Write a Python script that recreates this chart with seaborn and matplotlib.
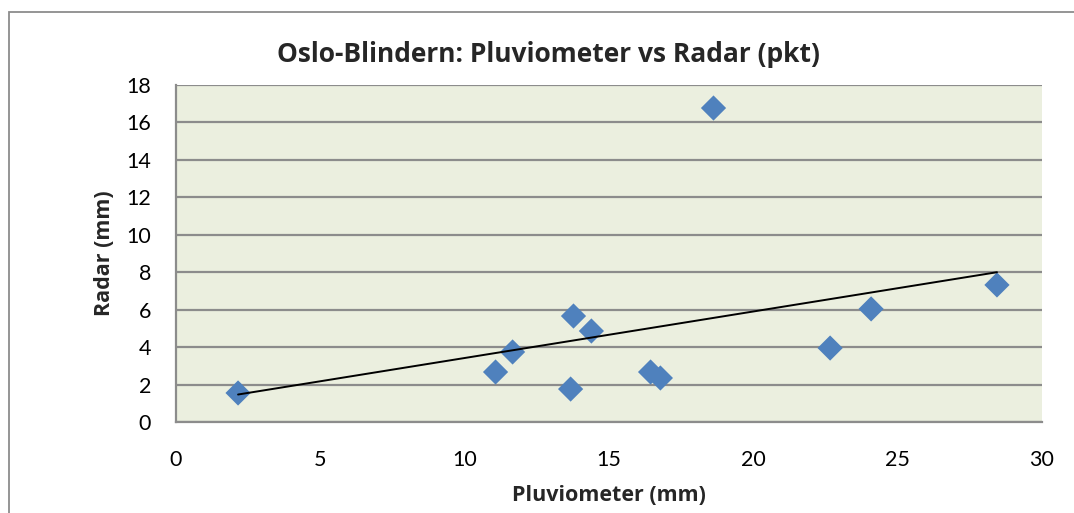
import numpy as np
import pandas as pd
import matplotlib
matplotlib.use("Agg")
import matplotlib.pyplot as plt
from matplotlib.patches import Rectangle
import seaborn as sns

# Daily totals at Oslo-Blindern: rain gauge vs radar estimate at the station pixel
pluviometer_mm = [2.15, 11.07, 11.66, 13.67, 13.77, 14.39, 16.44, 16.78, 18.62, 22.66, 24.08, 28.44]
radar_mm = [1.55, 2.67, 3.74, 1.76, 5.66, 4.86, 2.67, 2.35, 16.77, 3.95, 6.04, 7.32]

title_text = "Oslo-Blindern: Pluviometer vs Radar (pkt)"
x_label = "Pluviometer (mm)"
y_label = "Radar (mm)"
x_ticks = [0, 5, 10, 15, 20, 25, 30]
y_ticks = [0, 2, 4, 6, 8, 10, 12, 14, 16, 18]

df = pd.DataFrame({"pluv": pluviometer_mm, "radar": radar_mm})

sns.set_theme(style="white")
plt.rcParams["font.family"] = ["Lato", "DejaVu Sans"]
bold_family = ["Open Sans", "DejaVu Sans"]

fig = plt.figure(figsize=(10.74, 5.13), dpi=100)
ax = fig.add_axes([176 / 1074, 1 - 422 / 513, (1042 - 176) / 1074, (422 - 85) / 513])

ax.set_facecolor("#EBEFDF")
ax.set_axisbelow(True)
ax.yaxis.grid(True, color="#8C8C8C", linewidth=1.6)
ax.xaxis.grid(False)

sns.scatterplot(data=df, x="pluv", y="radar", marker="D", s=165,
                color="#4F81BD", edgecolor="none", ax=ax, zorder=3)
sns.regplot(data=df, x="pluv", y="radar", scatter=False, ci=None,
            line_kws={"color": "black", "linewidth": 1.4, "zorder": 4}, ax=ax)

ax.set_xlim(0, 30)
ax.set_ylim(0, 18)
ax.set_xticks(x_ticks)
ax.set_yticks(y_ticks)
ax.tick_params(axis="both", labelsize=15.5, colors="black", length=0)
ax.tick_params(axis="x", pad=20)
ax.tick_params(axis="y", pad=18)

for side in ["top", "right"]:
    ax.spines[side].set_visible(False)
for side in ["left", "bottom"]:
    ax.spines[side].set_color("#8C8C8C")
    ax.spines[side].set_linewidth(1.6)

ax.set_xlabel(x_label, fontsize=15.5, fontweight="bold", family=bold_family, labelpad=11)
ax.set_ylabel(y_label, fontsize=15.5, fontweight="bold", family=bold_family, labelpad=8)

fig.text(548 / 1074, 1 - 55 / 513, title_text, ha="center", va="center",
         fontsize=19, fontweight="bold", family=bold_family)

# Chart frame around the whole figure area
fig.patches.append(Rectangle((8.5 / 1074, -0.1), 1.2, 1.1 - 12.5 / 513,
                             transform=fig.transFigure, fill=False,
                             edgecolor="#8C8C8C", linewidth=1.3))

fig.savefig("out.png", dpi=100)
